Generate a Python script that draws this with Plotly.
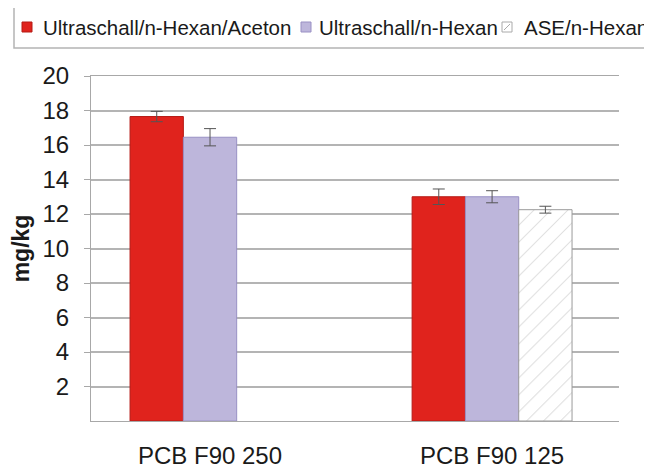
import plotly.graph_objects as go

categories = ["PCB F90 250", "PCB F90 125"]
series_names = ["Ultraschall/n-Hexan/Aceton", "Ultraschall/n-Hexan", "ASE/n-Hexan"]
us_hexan_aceton = [17.65, 13.0]
us_hexan_aceton_err = [0.3, 0.45]
us_hexan = [16.45, 13.0]
us_hexan_err = [0.5, 0.35]
ase_hexan = [None, 12.25]
ase_hexan_err = [0, 0.2]

RED = "#e0231d"
LILAC = "#bdb6db"
GRID = "#b4b4b4"
ERR = dict(type="data", color="#555555", thickness=1, width=6)

fig = go.Figure()
fig.add_bar(
    x=categories, y=us_hexan_aceton, name=series_names[0],
    marker=dict(color=RED, line=dict(color="#b51a15", width=1)),
    error_y=dict(array=us_hexan_aceton_err, **ERR),
)
fig.add_bar(
    x=categories, y=us_hexan, name=series_names[1],
    marker=dict(color=LILAC, line=dict(color="#9990c4", width=1)),
    error_y=dict(array=us_hexan_err, **ERR),
)
fig.add_bar(
    x=categories, y=ase_hexan, name=series_names[2],
    marker=dict(color="white", line=dict(color="#9a9a9a", width=1),
                pattern=dict(shape="/", fgcolor="#a0a0a0", bgcolor="white", size=12, solidity=0.08)),
    error_y=dict(array=ase_hexan_err, **ERR),
)

# the page body adds an 8px margin, so margins are 8px less than in the picture
fig.update_layout(
    width=652, height=467,
    margin=dict(l=83, r=41, t=68, b=54),
    paper_bgcolor="white", plot_bgcolor="white",
    barmode="group", bargap=0.433, bargroupgap=0,
    font=dict(family="Liberation Sans, Arial", color="#1a1a1a"),
    showlegend=False,
)

fig.update_xaxes(
    range=[-0.422, 1.45], showline=True, linecolor="#a8a8a8", mirror=True,
    ticks="", tickfont=dict(size=24), ticklabelstandoff=13, automargin=False,
)
fig.update_yaxes(
    range=[0, 20], showgrid=True, gridcolor=GRID, gridwidth=1.5,
    showline=True, linecolor="#a8a8a8", ticks="outside", ticklen=6, tickcolor="#a8a8a8",
    tickfont=dict(size=24), ticklabelstandoff=10, zeroline=False,
    tickvals=[2, 4, 6, 8, 10, 12, 14, 16, 18, 20], automargin=False,
    title=dict(text="<b>mg/kg</b>", font=dict(size=23), standoff=12),
)

# legend box drawn by hand (the original one is tighter than plotly's)
fig.add_shape(type="rect", xref="paper", yref="paper",
              x0=(14 - 91) / 528, x1=(662 - 91) / 528,
              y0=1 + (76 - 48) / 345, y1=1 + (76 - 7) / 345,
              line=dict(color="#b4b4b4", width=1.5), fillcolor="white", layer="above")
legend_sym_x = [22, 301, 502]
legend_text_x = [41, 317, 522]
sym_fill = [RED, LILAC, "white"]
sym_line = ["#b51a15", "#9990c4", "#aaaaaa"]
ly = 27
for i, name in enumerate(series_names):
    sx = legend_sym_x[i]
    fig.add_shape(type="rect", xref="paper", yref="paper",
                  x0=(sx - 91) / 528, x1=(sx + 10 - 91) / 528,
                  y0=1 + (76 - ly - 5) / 345, y1=1 + (76 - ly + 5) / 345,
                  line=dict(color=sym_line[i], width=1), fillcolor=sym_fill[i], layer="above")
    fig.add_annotation(text=name, xref="paper", yref="paper",
                       x=(legend_text_x[i] - 91) / 528, y=1 + (76 - ly) / 345,
                       xanchor="left", yanchor="middle", showarrow=False,
                       font=dict(size=20.5, color="#1a1a1a"))
# diagonal in the hatched symbol
fig.add_shape(type="line", xref="paper", yref="paper",
              x0=(504 - 91) / 528, x1=(510 - 91) / 528,
              y0=1 + (76 - ly - 3) / 345, y1=1 + (76 - ly + 3) / 345,
              line=dict(color="#aaaaaa", width=1), layer="above")

fig.write_html("out.html")
